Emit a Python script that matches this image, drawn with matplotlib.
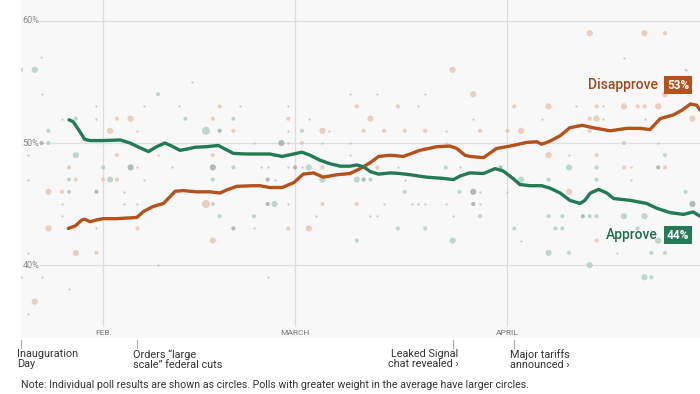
import matplotlib
matplotlib.use("Agg")
import matplotlib.pyplot as plt
from matplotlib.transforms import blended_transform_factory

plt.rcParams['font.family'] = ['Roboto', 'DejaVu Sans']

# ---- data (day 0 = Jan. 20) ----
approve_days = [7.0, 7.6, 8.4, 9.3, 10.1, 12, 14.5, 15.9, 17.4, 18.6, 19.8, 21, 22, 23.2, 24.2,
                25.4, 27.1, 28.8, 29.8, 31, 32.9, 34.9, 36.3, 38.1, 39.8, 41, 42.2, 43.6, 45.1, 46.6,
                48, 49, 50, 51, 52.2, 53.9, 55.3, 56.8, 59.2, 61.6, 63.1, 64.1, 65.5, 67.5, 69.2,
                70.4, 71.9, 72.8, 74.3, 76, 77.2, 78.7, 80.1, 81.6, 82.3, 83.1, 84.3, 85.5, 86.5, 88.9,
                91.3, 92.8, 94.7, 96.7, 98.1, 99.1]
approve_vals = [51.9, 51.75, 51.1, 50.3, 50.2, 50.2, 50.25, 50.0, 49.6, 49.3, 49.7, 50.0, 49.75, 49.4, 49.5,
                49.65, 49.7, 49.8, 49.5, 49.15, 49.1, 49.1, 49.1, 48.9, 49.1, 49.25, 49.0, 48.6, 48.3, 48.1,
                48.1, 48.2, 48.05, 47.65, 47.45, 47.55, 47.5, 47.4, 47.2, 47.1, 47.0, 47.3, 47.55, 47.5, 47.9,
                47.7, 47.05, 46.6, 46.5, 46.5, 46.3, 45.9, 45.3, 45.05, 45.3, 45.9, 46.2, 45.9, 45.45, 45.3,
                45.05, 44.65, 44.3, 44.15, 44.35, 44.0]

disapprove_days = [6.9, 7.9, 8.9, 9.3, 10.1, 11.05, 12, 14, 16.9, 17.9, 19.3, 20.8, 21.75, 22.5, 23.7,
                   25.6, 27.6, 29.05, 30, 31.5, 33.9, 34.9, 36.3, 38.1, 39.8, 41.2, 42.7, 44.1, 46.1, 48,
                   49.5, 51, 52.2, 53.9, 55.8, 56.8, 58.2, 60.7, 62.6, 63.6, 64.8, 65.5, 67.5, 69.4, 71.4,
                   73.8, 75.3, 76, 77.2, 78.7, 80.1, 81.9, 83.5, 86, 88.4, 90.4, 91.8, 93.3, 95.2, 96.5,
                   97.7, 98.6, 99.1]
disapprove_vals = [43.0, 43.2, 43.7, 43.75, 43.55, 43.7, 43.8, 43.8, 43.9, 44.4, 44.8, 45.05, 45.6, 46.05, 46.1,
                   46.0, 46.0, 45.9, 46.15, 46.45, 46.5, 46.5, 46.35, 46.35, 46.75, 47.45, 47.55, 47.2, 47.4, 47.5,
                   47.9, 48.4, 48.9, 49.0, 48.9, 49.1, 49.4, 49.7, 49.75, 49.55, 49.0, 48.9, 48.8, 49.55, 49.75,
                   50.05, 50.1, 49.9, 50.15, 50.6, 51.25, 51.45, 51.25, 51.0, 51.2, 51.2, 51.1, 52.0, 52.3, 52.7,
                   53.2, 53.1, 52.7]

# individual polls: (day, value, weight 1..4)
approve_polls = [
    (3, 57, 1), (0, 56, 2), (2, 56, 3), (20, 54, 2), (8, 52, 2), (24, 52, 2), (31, 52, 2),
    (4, 51, 2), (27, 51, 4), (41, 51, 2), (4, 50, 2), (8, 49, 3), (12, 48, 2), (31, 48, 2),
    (42, 48, 3), (7, 47, 2), (13, 47, 3), (28, 47, 2), (44, 47, 3), (7, 46, 2), (28, 45, 2),
    (37, 45, 3), (29, 44, 2), (34, 44, 2), (88, 50, 2), (94, 49, 2), (62, 48, 2), (80, 48, 3),
    (84, 48, 2), (49, 47, 3), (51, 47, 2), (73, 47, 3), (77, 47, 2), (84, 47, 2), (56, 46, 2),
    (64, 46, 2), (97, 46, 2), (67, 44, 2), (77, 44, 2), (79, 44, 2), (83, 44, 2), (84, 44, 2),
    (88, 44, 3), (91, 44, 3), (55, 43, 2), (59, 43, 2), (72, 43, 2), (78, 43, 2), (79, 43, 2),
    (90, 43, 2), (49, 42, 2), (63, 42, 3), (93, 42, 3), (77, 41, 3), (80, 41, 2), (92, 41, 2),
    (94, 41, 2), (83, 40, 3), (91, 39, 3), (92, 39, 2)]

disapprove_polls = [
    (29, 53, 2), (14, 52, 2), (16, 52, 3), (28, 52, 2), (39, 52, 2), (13, 51, 3), (31, 51, 2),
    (44, 51, 3), (41, 50, 2), (14, 49, 2), (28, 49, 2), (37, 49, 2), (7, 48, 2), (44, 48, 2),
    (8, 47, 2), (12, 47, 2), (14, 47, 2), (4, 46, 3), (6, 46, 2), (27, 45, 4), (44, 45, 2),
    (4, 43, 3), (17, 43, 2), (39, 43, 2), (42, 43, 3), (28, 42, 3), (8, 41, 3), (11, 41, 2),
    (2, 37, 3), (83, 59, 3), (91, 59, 3), (94, 59, 2), (63, 56, 3), (66, 54, 3), (94, 54, 3),
    (49, 53, 2), (55, 53, 2), (72, 53, 2), (77, 53, 3), (84, 53, 2), (88, 53, 3), (90, 53, 2),
    (91, 53, 2), (93, 53, 3), (51, 52, 3), (83, 52, 2), (84, 52, 3), (98, 52, 3), (50, 51, 2),
    (53, 51, 2), (56, 51, 2), (59, 51, 2), (67, 51, 2), (71, 51, 2), (73, 51, 3), (83, 51, 2),
    (77, 49, 3), (84, 49, 2), (52, 48, 2), (88, 48, 2), (94, 48, 2), (80, 46, 3), (49, 45, 2),
    (84, 42, 2), (97, 56, 1)]

overlap_polls = [
    (3, 50, 2), (29, 51, 2), (38, 50, 3), (16, 48, 3), (28, 48, 3), (40, 48, 2), (36, 47, 2),
    (11, 46, 2), (36, 45, 2), (31, 43, 2), (50, 47, 2), (66, 46, 3), (70, 48, 2), (93, 48, 2),
    (98, 45, 3), (82, 44, 2), (66, 45, 2)]

tiny_polls = [
    (6, 52), (11, 52), (42, 52), (11, 53), (18, 53), (23, 53), (32, 53), (39, 53), (3, 54),
    (25, 55), (17, 51), (39, 51), (45, 51), (39, 50), (44, 50), (34, 50), (1, 49), (20, 49),
    (17, 48), (22, 48), (35, 48), (36, 48), (39, 48), (41, 48), (1, 47), (18, 47), (37, 47),
    (15, 46), (6, 45), (15, 45), (17, 45), (39, 45), (6, 44), (43, 44), (11, 43), (34, 43),
    (1, 41), (20, 40), (0, 39), (3, 39), (36, 39), (7, 38), (1, 36), (48, 54), (52, 54),
    (59, 54), (58, 53), (81, 53), (85, 53), (66, 52), (76, 52), (85, 52), (91, 52), (62, 51),
    (93, 50), (48, 50), (62, 50), (80, 49), (48, 49), (55, 48), (64, 48), (89, 48), (56, 47),
    (89, 47), (67, 46), (71, 46), (53, 45), (57, 45), (58, 45), (59, 45), (62, 45), (67, 45),
    (51, 44), (52, 44), (63, 44), (73, 42), (87, 41), (97, 56), (88, 57)]

y_ticks = [40, 50, 60]
y_tick_labels = ["40%", "50%", "60%"]
month_days = [12, 40, 71, 101]
month_labels = ["FEB.", "MARCH", "APRIL", "MAY"]
event_days = [0, 17, 63, 72]
event_labels = ["Inauguration\nDay", "Orders \u201clarge\nscale\u201d federal cuts",
                "Leaked Signal\nchat revealed \u203a", "Major tariffs\nannounced \u203a"]
event_align = ["left", "left", "right", "left"]
latest_disapprove = "53%"
latest_approve = "44%"

GREEN = "#237a57"
ORANGE = "#b5521c"

fig = plt.figure(figsize=(7, 3.94), dpi=100)
ax = fig.add_axes([21 / 700, 56 / 394, 679 / 700, 338 / 394])
ax.set_facecolor("#f8f8f8")
ax.set_xlim(0, 99.1)
ax.set_ylim(34.02, 61.72)
for s in ax.spines.values():
    s.set_visible(False)
ax.set_xticks([])
ax.set_yticks([])

# grid
for yv, lab in zip(y_ticks, y_tick_labels):
    ax.axhline(yv, xmin=0.028, xmax=1, color="#e0e0e0", lw=0.9, zorder=0)
    ax.text(0.2, yv, lab, ha="left", va="center", fontsize=6.5, color="#888888", zorder=1)
trans = blended_transform_factory(ax.transData, ax.transAxes)
for d, lab in zip(month_days, month_labels):
    ax.plot([d, d], [0.035, 1], transform=trans, color="#dddddd", lw=0.9, zorder=0, clip_on=False)
    ax.text(d, 0.015, lab, transform=trans, ha="center", va="center", fontsize=6,
            color="#777777", clip_on=True)

size_map = {1: 2.5, 2: 9, 3: 20, 4: 34}
ax.scatter([p[0] for p in approve_polls], [p[1] for p in approve_polls],
           s=[size_map[p[2]] for p in approve_polls], color="#a9cdbd", alpha=0.75, lw=0, zorder=2)
ax.scatter([p[0] for p in disapprove_polls], [p[1] for p in disapprove_polls],
           s=[size_map[p[2]] for p in disapprove_polls], color="#e8c0a8", alpha=0.75, lw=0, zorder=2)
ax.scatter([p[0] for p in overlap_polls], [p[1] for p in overlap_polls],
           s=[size_map[p[2]] for p in overlap_polls], color="#98a89c", alpha=0.75, lw=0, zorder=2)
ax.scatter([p[0] for p in tiny_polls], [p[1] for p in tiny_polls],
           s=2.5, color="#c9c3bc", alpha=0.9, lw=0, zorder=2)

ax.plot(disapprove_days, disapprove_vals, color=ORANGE, lw=2.4, solid_capstyle="round",
        solid_joinstyle="round", zorder=4)
ax.plot(approve_days, approve_vals, color=GREEN, lw=2.4, solid_capstyle="round",
        solid_joinstyle="round", zorder=4)

# end labels
ax.text(93.0, 54.75, "Disapprove", ha="right", va="center", fontsize=10, color="#a5481a",
        fontweight="medium", zorder=5)
ax.text(95.9, 54.75, latest_disapprove, ha="center", va="center", fontsize=8.5, color="white",
        fontweight="bold", zorder=5,
        bbox=dict(boxstyle="square,pad=0.22", fc=ORANGE, ec="none"))
ax.text(92.85, 42.46, "Approve", ha="right", va="center", fontsize=10, color="#1f6e4e",
        fontweight="medium", zorder=5)
ax.text(95.9, 42.46, latest_approve, ha="center", va="center", fontsize=8.5, color="white",
        fontweight="bold", zorder=5,
        bbox=dict(boxstyle="square,pad=0.22", fc=GREEN, ec="none"))

# events below axis
for d, lab, al in zip(event_days, event_labels, event_align):
    xfig = (21 + d * 6.85) / 700
    fig.add_artist(plt.Line2D([xfig, xfig], [1 - 340 / 394, 1 - 348 / 394], color="#aaaaaa", lw=0.8))
    xt = xfig - 4 / 700 if al == "left" else xfig + 6 / 700
    fig.text(xt, 1 - 349 / 394, lab, ha=al, va="top", fontsize=7.8, color="#333333",
             linespacing=1.05, multialignment=al)

fig.text(21 / 700, 1 - 385 / 394,
         "Note: Individual poll results are shown as circles. Polls with greater weight in the average have larger circles.",
         ha="left", va="center", fontsize=7.65, color="#333333")

fig.savefig("out.png", dpi=100, facecolor="white")
